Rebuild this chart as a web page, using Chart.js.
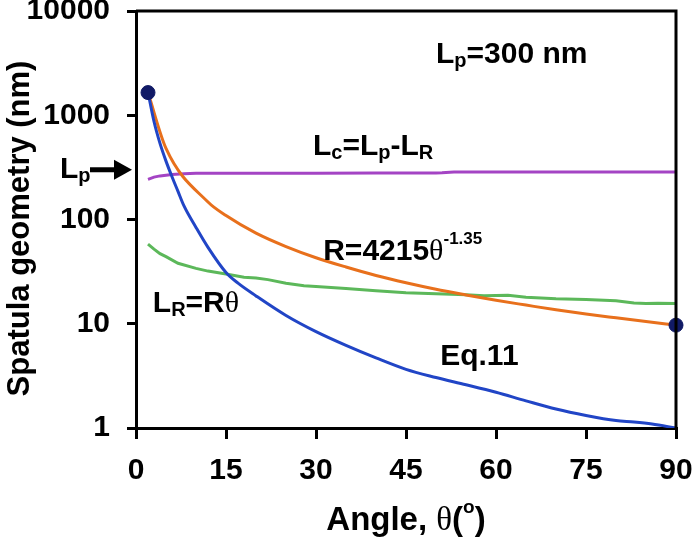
<!DOCTYPE html>
<html>
<head>
<meta charset="utf-8">
<script src="https://cdn.jsdelivr.net/npm/chart.js@4"></script>
<style>
  body { margin: 0; background: #fff; }
  #wrap { width: 695px; height: 544px; }
</style>
</head>
<body>
<div id="wrap"><canvas id="spatulaChart"></canvas></div>
<script>
// axis ticks
const angleTicks = [0, 15, 30, 45, 60, 75, 90];
const geometryTicks = [1, 10, 100, 1000, 10000];

// Eq.11 (blue)
const eq11Angles = [2, 3, 4, 5, 6, 7, 8, 10, 12, 15, 17, 20, 25, 30, 35, 40, 45, 50, 55, 60, 65, 70, 75, 80, 83, 86, 90];
const eq11Values = [1660, 871, 537, 363, 257, 186, 135, 84, 54, 31, 24.5, 18.5, 12, 8.4, 6.2, 4.7, 3.65, 3.05, 2.6, 2.2, 1.82, 1.52, 1.32, 1.18, 1.14, 1.09, 1.0];

// R = 4215 theta^-1.35 (orange)
const rAngles = [2, 5, 12, 15, 20, 25, 30, 35, 40, 45, 50, 55, 60, 65, 70, 75, 80, 85, 90];
const rValues = [1650, 480, 147, 109, 74, 55, 43, 35, 29, 24.7, 21.4, 18.9, 16.8, 15.1, 13.6, 12.4, 11.4, 10.5, 9.7];

// L_R = R theta (green)
const lrAngles = [2, 3, 4, 5, 7, 10, 12, 15, 18, 20, 22, 25, 28, 30, 35, 40, 45, 50, 55, 58, 60, 62, 65, 70, 75, 80, 83, 85, 87, 90];
const lrValues = [58, 52, 47, 44, 38, 34, 32, 30, 28, 27.5, 26.5, 24.5, 23.2, 22.8, 21.8, 20.7, 19.8, 19.4, 19, 18.6, 18.7, 18.8, 18.0, 17.4, 17.1, 16.6, 15.8, 15.6, 15.7, 15.6];

// L_c = L_p - L_R (purple)
const lcAngles = [2, 3, 4, 6, 8, 10, 20, 30, 40, 50, 51, 53, 60, 70, 80, 90];
const lcValues = [243, 255, 262, 270, 275, 277, 278, 278, 279, 280, 281, 285, 285, 285, 285, 285];

// end points
const endAngles = [2, 90];
const endValues = [1650, 9.7];

const lpValue = 300;

const SANS = '"Liberation Sans", Arial, sans-serif';
const SERIF = '"Liberation Serif", "Times New Roman", serif';

function toXY(xs, ys) {
  return xs.map((x, i) => ({ x: x, y: ys[i] }));
}

// text runs: main, sub, sup, theta
function runFont(r, size) {
  if (r.k === 'sub') return ['bold ' + Math.round(size * 0.67) + 'px ' + SANS, size * 0.13];
  if (r.k === 'sup') return ['bold ' + Math.round(size * 0.57) + 'px ' + SANS, -size * 0.53];
  if (r.k === 'th') return [size + 'px ' + SERIF, 0];
  return ['bold ' + size + 'px ' + SANS, 0];
}

function runsWidth(ctx, runs, size) {
  let w = 0;
  runs.forEach(r => { ctx.font = runFont(r, size)[0]; w += ctx.measureText(r.t).width; });
  return w;
}

function drawRuns(ctx, x, y, runs, size) {
  size = size || 30;
  ctx.save();
  ctx.fillStyle = '#000';
  ctx.textBaseline = 'alphabetic';
  ctx.textAlign = 'left';
  runs.forEach(r => {
    const [font, dy] = runFont(r, size);
    ctx.font = font;
    ctx.fillText(r.t, x, y + dy);
    x += ctx.measureText(r.t).width;
  });
  ctx.restore();
}

const labels = [
  { x: 50, y: 3160, runs: [{ t: 'L' }, { t: 'p', k: 'sub' }, { t: '=300 nm' }] },
  { x: 29.5, y: 417, runs: [{ t: 'L' }, { t: 'c', k: 'sub' }, { t: '=L' }, { t: 'p', k: 'sub' }, { t: '-L' }, { t: 'R', k: 'sub' }] },
  { x: 31.2, y: 41, runs: [{ t: 'R=4215' }, { t: 'θ', k: 'th' }, { t: '-1.35', k: 'sup' }] },
  { x: 2.8, y: 13, runs: [{ t: 'L' }, { t: 'R', k: 'sub' }, { t: '=R' }, { t: 'θ', k: 'th' }] },
  { x: 50.7, y: 4.04, runs: [{ t: 'Eq.11' }] }
];

const xTitle = [{ t: 'Angle, ' }, { t: 'θ', k: 'th' }, { t: '(' }, { t: 'o', k: 'sup' }, { t: ')' }];
const yTitle = [{ t: 'Spatula geometry (nm)' }];

const notes = {
  id: 'notes',
  afterDatasetsDraw(chart) {
    const { ctx, chartArea, scales } = chart;
    const xs = scales.x, ys = scales.y;

    // frame top & right
    ctx.save();
    ctx.strokeStyle = '#000';
    ctx.lineWidth = 3;
    ctx.beginPath();
    ctx.moveTo(chartArea.left, chartArea.top);
    ctx.lineTo(chartArea.right, chartArea.top);
    ctx.lineTo(chartArea.right, chartArea.bottom);
    ctx.stroke();
    ctx.restore();

    labels.forEach(l => drawRuns(ctx, xs.getPixelForValue(l.x), ys.getPixelForValue(l.y), l.runs));

    // L_p arrow at the left
    const py = ys.getPixelForValue(lpValue);
    drawRuns(ctx, chartArea.left - 76, py + 8, [{ t: 'L' }, { t: 'p', k: 'sub' }]);
    ctx.save();
    ctx.strokeStyle = '#000';
    ctx.fillStyle = '#000';
    ctx.lineWidth = 5;
    ctx.beginPath();
    ctx.moveTo(chartArea.left - 46, py);
    ctx.lineTo(chartArea.left - 20, py);
    ctx.stroke();
    ctx.beginPath();
    ctx.moveTo(chartArea.left - 4, py);
    ctx.lineTo(chartArea.left - 22, py - 10);
    ctx.lineTo(chartArea.left - 22, py + 10);
    ctx.closePath();
    ctx.fill();
    ctx.restore();

    // axis titles
    const cx = (chartArea.left + chartArea.right) / 2;
    const wx = runsWidth(ctx, xTitle, 33);
    drawRuns(ctx, cx - wx / 2, chartArea.bottom + 102, xTitle, 33);

    ctx.save();
    ctx.translate(29, (chartArea.top + chartArea.bottom) / 2 + 9);
    ctx.rotate(-Math.PI / 2);
    const wy = runsWidth(ctx, yTitle, 31);
    drawRuns(ctx, -wy / 2, 0, yTitle, 31);
    ctx.restore();
  }
};

new Chart('spatulaChart', {
  type: 'line',
  data: {
    datasets: [
      { data: toXY(endAngles, endValues), showLine: false, pointRadius: 7, pointBackgroundColor: '#111a66', pointBorderColor: '#111a66', clip: false },
      { data: toXY(eq11Angles, eq11Values), borderColor: '#2145c6', borderWidth: 3, pointRadius: 0, cubicInterpolationMode: 'monotone' },
      { data: toXY(rAngles, rValues), borderColor: '#e8701c', borderWidth: 3, pointRadius: 0, cubicInterpolationMode: 'monotone' },
      { data: toXY(lrAngles, lrValues), borderColor: '#5cb85a', borderWidth: 3, pointRadius: 0 },
      { data: toXY(lcAngles, lcValues), borderColor: '#a444c4', borderWidth: 3, pointRadius: 0 }
    ]
  },
  options: {
    responsive: true,
    maintainAspectRatio: false,
    animation: false,
    events: [],
    layout: { padding: { top: 11, right: 19, left: 0, bottom: 0 } },
    plugins: { legend: { display: false }, tooltip: { enabled: false } },
    scales: {
      x: {
        type: 'linear',
        min: 0,
        max: 90,
        afterBuildTicks: s => { s.ticks = angleTicks.map(v => ({ value: v })); },
        afterFit: s => { s.height = 116; s.paddingLeft = 0; s.paddingRight = 0; },
        grid: { drawOnChartArea: false, drawTicks: true, tickLength: 11, color: '#000', lineWidth: 3 },
        border: { display: true, color: '#000', width: 3 },
        ticks: { color: '#000', padding: 14, font: { family: SANS, size: 30, weight: 'bold' }, maxRotation: 0 },
        title: { display: false }
      },
      y: {
        type: 'logarithmic',
        min: 1,
        max: 10000,
        afterBuildTicks: s => { s.ticks = geometryTicks.map(v => ({ value: v })); },
        afterFit: s => { s.width = 136; s.paddingTop = 0; s.paddingBottom = 0; },
        grid: { drawOnChartArea: false, drawTicks: true, tickLength: 9, color: '#000', lineWidth: 3 },
        border: { display: true, color: '#000', width: 3 },
        ticks: { color: '#000', padding: 17, font: { family: SANS, size: 30, weight: 'bold' }, callback: v => String(v) },
        title: { display: false }
      }
    }
  },
  plugins: [notes]
});
</script>
</body>
</html>
